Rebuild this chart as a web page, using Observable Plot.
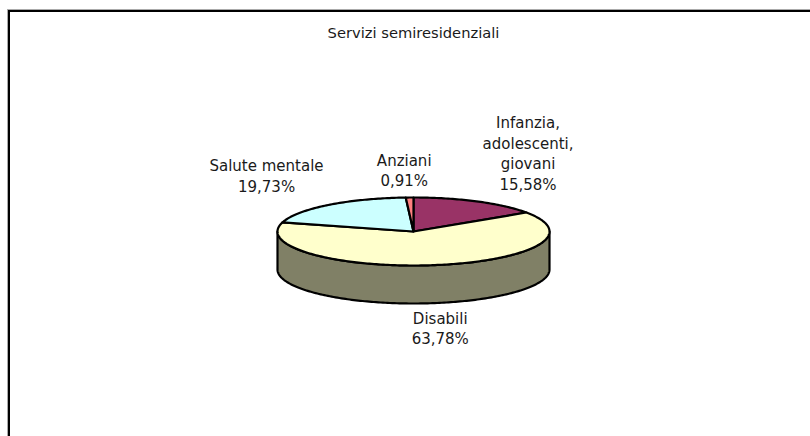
<!DOCTYPE html>
<html>
<head>
<meta charset="utf-8">
<script src="https://cdn.jsdelivr.net/npm/d3@7"></script>
<script src="https://cdn.jsdelivr.net/npm/@observablehq/plot@0.6"></script>
<style>
  html, body { margin: 0; padding: 0; background: #fff; }
  #wrap { position: relative; width: 810px; height: 436px; overflow: hidden; }
  #frame { position: absolute; left: 8px; top: 10px; width: 1000px; height: 800px;
           border-left: 2px solid #000; border-top: 2px solid #000;
           box-shadow: -1px -1px 0 #aaa; }
  #chart { position: absolute; left: 0; top: 0; }
</style>
</head>
<body>
<div id="wrap"><div id="frame"></div><div id="chart"></div></div>
<script>
// ---- data ----
const chartTitle = "Servizi semiresidenziali";
const categories = ["Infanzia, adolescenti, giovani", "Disabili", "Salute mentale", "Anziani"];
const labelNames = ["Infanzia,\nadolescenti,\ngiovani", "Disabili", "Salute mentale", "Anziani"];
const values = [15.58, 63.78, 19.73, 0.91];

// ---- styles ----
const sliceColors = ["#993366", "#FFFFCC", "#CCFFFF", "#FF8080"];

// ---- layout (pixel geometry of the 3D pie) ----
const W = 810, H = 436;
const cx = 413, cy = 231, rx = 136, ry = 34, depth = 38;
const labelLx = 150, labelLy = 80;
const labelNudge = [[44, -8.5], [3, -21], [-53, 6], [-5, 18]];
const titleY = 33;

const total = d3.sum(values);
const rad = d => d * Math.PI / 180;
const px = a => cx + rx * Math.sin(rad(a));
const py = a => cy - ry * Math.cos(rad(a));
function arc(a0, a1) {
  const n = Math.max(2, Math.ceil(Math.abs(a1 - a0) / 1) + 1);
  return d3.range(n).map(i => a0 + (a1 - a0) * i / (n - 1));
}
function darker(c) {
  const r = d3.rgb(c);
  return d3.rgb(r.r * 0.5, r.g * 0.5, r.b * 0.5).formatHex();
}

let cum = 0;
const slices = values.map((v, i) => {
  const a0 = cum / total * 360;
  cum += v;
  const a1 = cum / total * 360;
  return {i, name: categories[i], value: v, a0, a1, mid: (a0 + a1) / 2};
});

const marks = [];
// side walls (visible front half: 90..270 degrees)
for (const s of slices) {
  const b0 = Math.max(s.a0, 90), b1 = Math.min(s.a1, 270);
  if (b1 <= b0) continue;
  const top = arc(b0, b1).map(a => ({x: px(a), y: py(a)}));
  const bot = arc(b1, b0).map(a => ({x: px(a), y: py(a) + depth}));
  marks.push(Plot.line(top.concat(bot), {
    x: "x", y: "y", curve: "linear-closed",
    fill: darker(sliceColors[s.i]), stroke: "#000", strokeWidth: 2.2, strokeLinejoin: "round"
  }));
}
// top faces
for (const s of slices) {
  const pts = [{x: cx, y: cy}].concat(arc(s.a0, s.a1).map(a => ({x: px(a), y: py(a)})));
  marks.push(Plot.line(pts, {
    x: "x", y: "y", curve: "linear-closed",
    fill: sliceColors[s.i], stroke: "#000", strokeWidth: 2.2, strokeLinejoin: "round"
  }));
}

// labels
const fmt = v => v.toFixed(2).replace(".", ",") + "%";
const labels = slices.map(s => {
  const sn = Math.sin(rad(s.mid)), cs = Math.cos(rad(s.mid));
  return {
    x: cx + sn * labelLx + labelNudge[s.i][0],
    y: cy - cs * labelLy + (cs < 0 ? depth : 0) + labelNudge[s.i][1],
    text: labelNames[s.i] + "\n" + fmt(s.value)
  };
});
marks.push(Plot.text(labels, {
  x: "x", y: "y", text: "text", lineAnchor: "middle", lineHeight: 1.36,
  fontSize: 15, fill: "#1a1a1a", textAnchor: "middle"
}));
marks.push(Plot.text([chartTitle], {
  x: () => cx, y: () => titleY, text: d => d, fontSize: 14.7, fill: "#1a1a1a", textAnchor: "middle", lineAnchor: "middle"
}));

const chart = Plot.plot({
  width: W, height: H,
  margin: 0,
  x: {type: "linear", domain: [0, W], range: [0, W], axis: null},
  y: {type: "linear", domain: [0, H], range: [0, H], axis: null},
  style: {fontFamily: "'Century Gothic', 'DejaVu Sans', sans-serif", background: "transparent"},
  marks
});
document.getElementById("chart").appendChild(chart);
</script>
</body>
</html>
